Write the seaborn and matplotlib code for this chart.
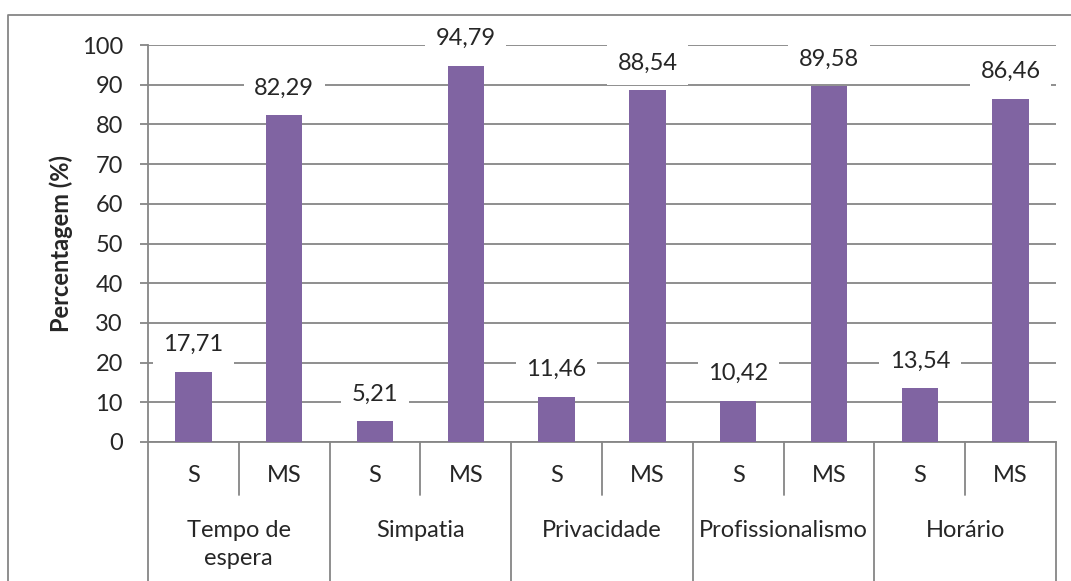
import numpy as np
import pandas as pd
import matplotlib
matplotlib.use("Agg")
import matplotlib.pyplot as plt
import seaborn as sns
from matplotlib.transforms import blended_transform_factory

# data
groups = ["Tempo de\nespera", "Simpatia", "Privacidade", "Profissionalismo", "Horário"]
levels = ["S", "MS"]
values = [17.71, 82.29, 5.21, 94.79, 11.46, 88.54, 10.42, 89.58, 13.54, 86.46]
yticks = [0, 10, 20, 30, 40, 50, 60, 70, 80, 90, 100]

bar_color = "#8064A2"
line_color = "#868686"

sns.set_theme(style="white")
plt.rcParams["font.family"] = ["Lato", "DejaVu Sans"]
fs = 17

df = pd.DataFrame({
    "item": [f"{g}|{l}" for g in groups for l in levels],
    "level": [l for g in groups for l in levels],
    "value": values,
})

W, H = 1071, 581
fig = plt.figure(figsize=(W / 100, H / 100), dpi=100)
ax = fig.add_axes([148 / W, 1 - 442 / H, (1056 - 148) / W, (442 - 45) / H])

sns.barplot(data=df, x="item", y="value", order=df["item"], color=bar_color,
            saturation=1, width=0.4, linewidth=0, ax=ax, zorder=3)

ax.set_ylim(0, 100)
ax.set_xlim(-0.5, len(df) - 0.5)
ax.set_yticks(yticks)
ax.set_yticklabels([str(t) for t in yticks], fontsize=fs)
ax.yaxis.grid(True, color=line_color, linewidth=1.3, zorder=0)
ax.tick_params(axis="y", length=6, width=1.3, color=line_color, pad=12, left=True)
for s in ["top", "right"]:
    ax.spines[s].set_visible(False)
for s in ["left", "bottom"]:
    ax.spines[s].set_color(line_color)
    ax.spines[s].set_linewidth(1.3)
ax.set_ylabel("Percentagem (%)", fontsize=fs, fontweight="bold", labelpad=6)
ax.set_xlabel("")

# value labels with white boxes over gridlines
for i, v in enumerate(values):
    ax.annotate(f"{v:.2f}".replace(".", ","), (i, v), xytext=(0, 27),
                textcoords="offset pixels",
                ha="center", va="center", fontsize=fs, zorder=5,
                bbox=dict(boxstyle="square,pad=0.45", fc="white", ec="none"))

# multi-level category axis
trans = blended_transform_factory(ax.transData, ax.transAxes)
ax_h = 442 - 45
ax.set_xticks(range(len(df)))
ax.set_xticklabels([])
ax.tick_params(axis="x", length=0)
for i, lv in enumerate(df["level"]):
    ax.text(i, -(476 - 442) / ax_h, lv, transform=trans, ha="center", va="center",
            fontsize=fs)

inner_depth = -(495 - 442) / ax_h
outer_depth = -(H - 442) / ax_h
n = len(levels)
for g in range(len(groups)):
    ax.plot([g * n + 0.5] * 2, [0, inner_depth], transform=trans, color=line_color,
            lw=1.3, clip_on=False)
for g in range(len(groups) + 1):
    ax.plot([g * n - 0.5] * 2, [0, outer_depth], transform=trans, color=line_color,
            lw=1.3, clip_on=False)
for g, name in enumerate(groups):
    ax.text(g * n + (n - 1) / 2, -(520 - 442) / ax_h, name, transform=trans,
            ha="center", va="top", fontsize=fs, linespacing=1.4)

# outer chart frame (left and top edges visible)
fig.add_artist(plt.Line2D([8 / W, 8 / W, 1], [0, 1 - 15 / H, 1 - 15 / H],
                          transform=fig.transFigure, color=line_color, lw=1.3))

fig.savefig("out.png", dpi=100)
